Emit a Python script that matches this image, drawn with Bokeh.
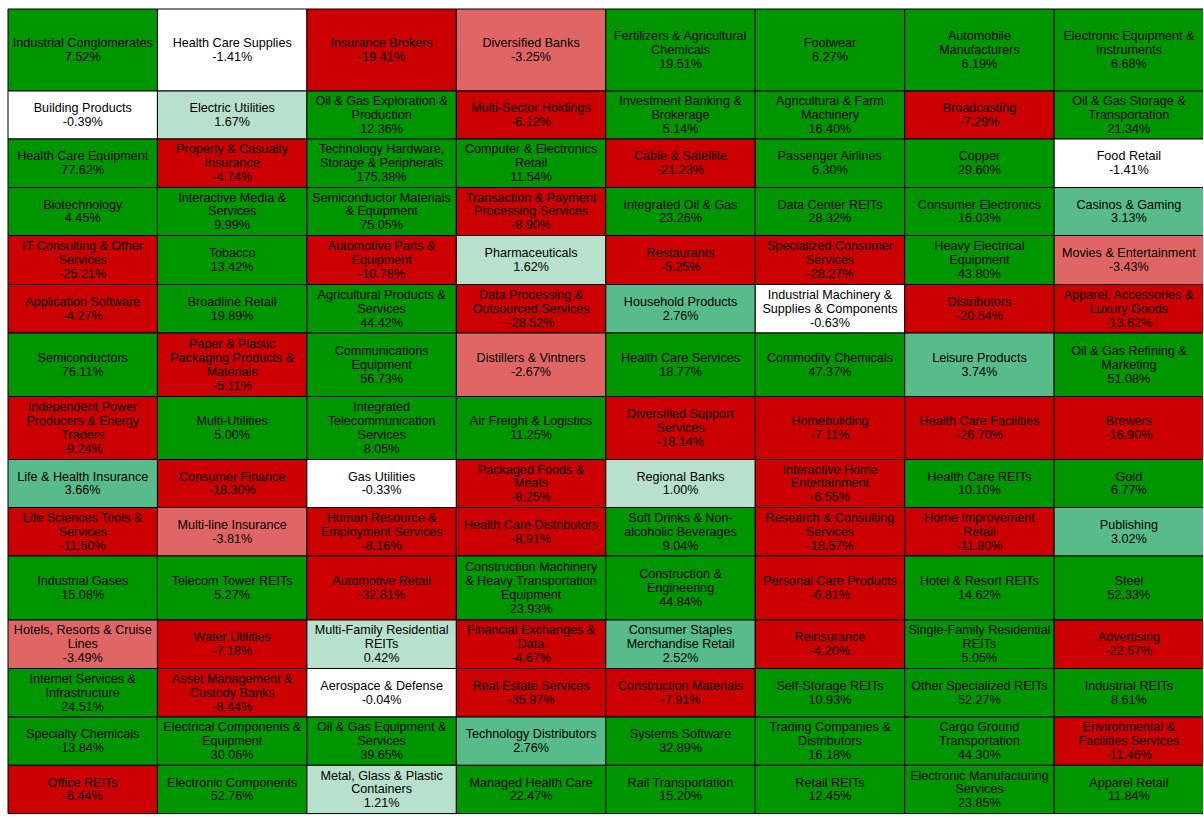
from bokeh.plotting import figure
from bokeh.models import ColumnDataSource, Range1d
from bokeh.core.properties import value
from bokeh.embed import file_html
from bokeh.resources import INLINE

# ---- data (row by row, 8 per row) ----
industries = [
    "Industrial Conglomerates", "Health Care Supplies", "Insurance Brokers", "Diversified Banks",
    "Fertilizers & Agricultural\nChemicals", "Footwear", "Automobile\nManufacturers", "Electronic Equipment &\nInstruments",
    "Building Products", "Electric Utilities", "Oil & Gas Exploration &\nProduction", "Multi-Sector Holdings",
    "Investment Banking &\nBrokerage", "Agricultural & Farm\nMachinery", "Broadcasting", "Oil & Gas Storage &\nTransportation",
    "Health Care Equipment", "Property & Casualty\nInsurance", "Technology Hardware,\nStorage & Peripherals", "Computer & Electronics\nRetail",
    "Cable & Satellite", "Passenger Airlines", "Copper", "Food Retail",
    "Biotechnology", "Interactive Media &\nServices", "Semiconductor Materials\n& Equipment", "Transaction & Payment\nProcessing Services",
    "Integrated Oil & Gas", "Data Center REITs", "Consumer Electronics", "Casinos & Gaming",
    "IT Consulting & Other\nServices", "Tobacco", "Automotive Parts &\nEquipment", "Pharmaceuticals",
    "Restaurants", "Specialized Consumer\nServices", "Heavy Electrical\nEquipment", "Movies & Entertainment",
    "Application Software", "Broadline Retail", "Agricultural Products &\nServices", "Data Processing &\nOutsourced Services",
    "Household Products", "Industrial Machinery &\nSupplies & Components", "Distributors", "Apparel, Accessories &\nLuxury Goods",
    "Semiconductors", "Paper & Plastic\nPackaging Products &\nMaterials", "Communications\nEquipment", "Distillers & Vintners",
    "Health Care Services", "Commodity Chemicals", "Leisure Products", "Oil & Gas Refining &\nMarketing",
    "Independent Power\nProducers & Energy\nTraders", "Multi-Utilities", "Integrated\nTelecommunication\nServices", "Air Freight & Logistics",
    "Diversified Support\nServices", "Homebuilding", "Health Care Facilities", "Brewers",
    "Life & Health Insurance", "Consumer Finance", "Gas Utilities", "Packaged Foods &\nMeats",
    "Regional Banks", "Interactive Home\nEntertainment", "Health Care REITs", "Gold",
    "Life Sciences Tools &\nServices", "Multi-line Insurance", "Human Resource &\nEmployment Services", "Health Care Distributors",
    "Soft Drinks & Non-\nalcoholic Beverages", "Research & Consulting\nServices", "Home Improvement\nRetail", "Publishing",
    "Industrial Gases", "Telecom Tower REITs", "Automotive Retail", "Construction Machinery\n& Heavy Transportation\nEquipment",
    "Construction &\nEngineering", "Personal Care Products", "Hotel & Resort REITs", "Steel",
    "Hotels, Resorts & Cruise\nLines", "Water Utilities", "Multi-Family Residential\nREITs", "Financial Exchanges &\nData",
    "Consumer Staples\nMerchandise Retail", "Reinsurance", "Single-Family Residential\nREITs", "Advertising",
    "Internet Services &\nInfrastructure", "Asset Management &\nCustody Banks", "Aerospace & Defense", "Real Estate Services",
    "Construction Materials", "Self-Storage REITs", "Other Specialized REITs", "Industrial REITs",
    "Specialty Chemicals", "Electrical Components &\nEquipment", "Oil & Gas Equipment &\nServices", "Technology Distributors",
    "Systems Software", "Trading Companies &\nDistributors", "Cargo Ground\nTransportation", "Environmental &\nFacilities Services",
    "Office REITs", "Electronic Components", "Metal, Glass & Plastic\nContainers", "Managed Health Care",
    "Rail Transportation", "Retail REITs", "Electronic Manufacturing\nServices", "Apparel Retail",
]

changes = [
    7.52, -1.41, -19.41, -3.25, 19.51, 6.27, 6.19, 6.68,
    -0.39, 1.67, 12.36, -6.12, 5.14, 16.40, -7.29, 21.34,
    77.62, -4.74, 175.38, 11.54, -21.23, 6.30, 29.60, -1.41,
    4.45, 9.99, 75.05, -8.90, 23.26, 28.32, 16.03, 3.13,
    -25.21, 13.42, -10.78, 1.62, -5.25, -28.27, 43.80, -3.43,
    -4.27, 19.89, 44.42, -28.52, 2.76, -0.63, -20.54, -13.62,
    76.11, -5.11, 56.73, -2.67, 18.77, 47.37, 3.74, 51.08,
    -9.24, 5.00, 8.05, 11.25, -18.14, -7.11, -26.70, -16.90,
    3.66, -18.30, -0.33, -8.25, 1.00, -6.55, 10.10, 6.77,
    -11.50, -3.81, -8.16, -8.91, 9.04, -18.57, -11.80, 3.02,
    15.08, 5.27, -32.81, 23.93, 44.84, -6.81, 14.62, 52.33,
    -3.49, -7.18, 0.42, -4.67, 2.52, -4.20, 5.05, -22.57,
    24.51, -8.44, -0.04, -35.97, -7.91, 10.93, 52.27, 8.61,
    13.84, 30.06, 39.65, 2.76, 32.89, 16.18, 44.30, -11.46,
    -6.44, 52.76, 1.21, 22.47, 15.20, 12.45, 23.85, 11.84,
]

# ---- layout / style ----
N_COLS = 8
COL_WIDTH = 149.45
ROW_HEIGHTS = [82, 48, 48.5, 48, 49, 48.5, 63.5, 63, 48, 48.5, 64, 48.5, 48.5, 48.3, 48.3]
OFFSET_X, OFFSET_Y = 7.5, 8.5

DARK_GREEN = "#009600"
MID_GREEN = "#57BB8A"
LIGHT_GREEN = "#B7E1CD"
WHITE = "#FFFFFF"
LIGHT_RED = "#E06666"
RED = "#CC0000"


def colour(v):
    if v >= 4:
        return DARK_GREEN
    if v >= 2:
        return MID_GREEN
    if v >= 0:
        return LIGHT_GREEN
    if v > -2:
        return WHITE
    if v > -4:
        return LIGHT_RED
    return RED


row_tops = [0.0]
for h in ROW_HEIGHTS:
    row_tops.append(row_tops[-1] + h)

left, right, top, bottom, xc, yc, labels, fills = [], [], [], [], [], [], [], []
for i, (name, v) in enumerate(zip(industries, changes)):
    r, c = divmod(i, N_COLS)
    l = c * COL_WIDTH
    t = row_tops[r]
    b = row_tops[r + 1]
    left.append(l)
    right.append(l + COL_WIDTH)
    top.append(t)
    bottom.append(b)
    xc.append(l + COL_WIDTH / 2)
    yc.append((t + b) / 2)
    labels.append(f"{name}\n{v:.2f}%")
    fills.append(colour(v))

src = ColumnDataSource(dict(left=left, right=right, top=top, bottom=bottom,
                            x=xc, y=yc, label=labels, fill=fills))

W, H = 1203, 815
p = figure(width=W, height=H, output_backend="svg", toolbar_location=None,
           x_range=Range1d(-OFFSET_X, W - OFFSET_X), y_range=Range1d(H - OFFSET_Y, -OFFSET_Y),
           min_border=0, outline_line_color=None,
           background_fill_color="white", border_fill_color="white")
p.axis.visible = False
p.grid.visible = False

p.quad(left="left", right="right", top="top", bottom="bottom", source=src,
       fill_color="fill", line_color="#000000", line_width=1)
p.text(x="x", y="y", text="label", source=src, text_align="center",
       text_baseline="middle", text_font=value("Liberation Sans"),
       text_font_size="12.6px", text_color="#000000", text_line_height=0.99)

open("out.html", "w").write(file_html(p, INLINE))
